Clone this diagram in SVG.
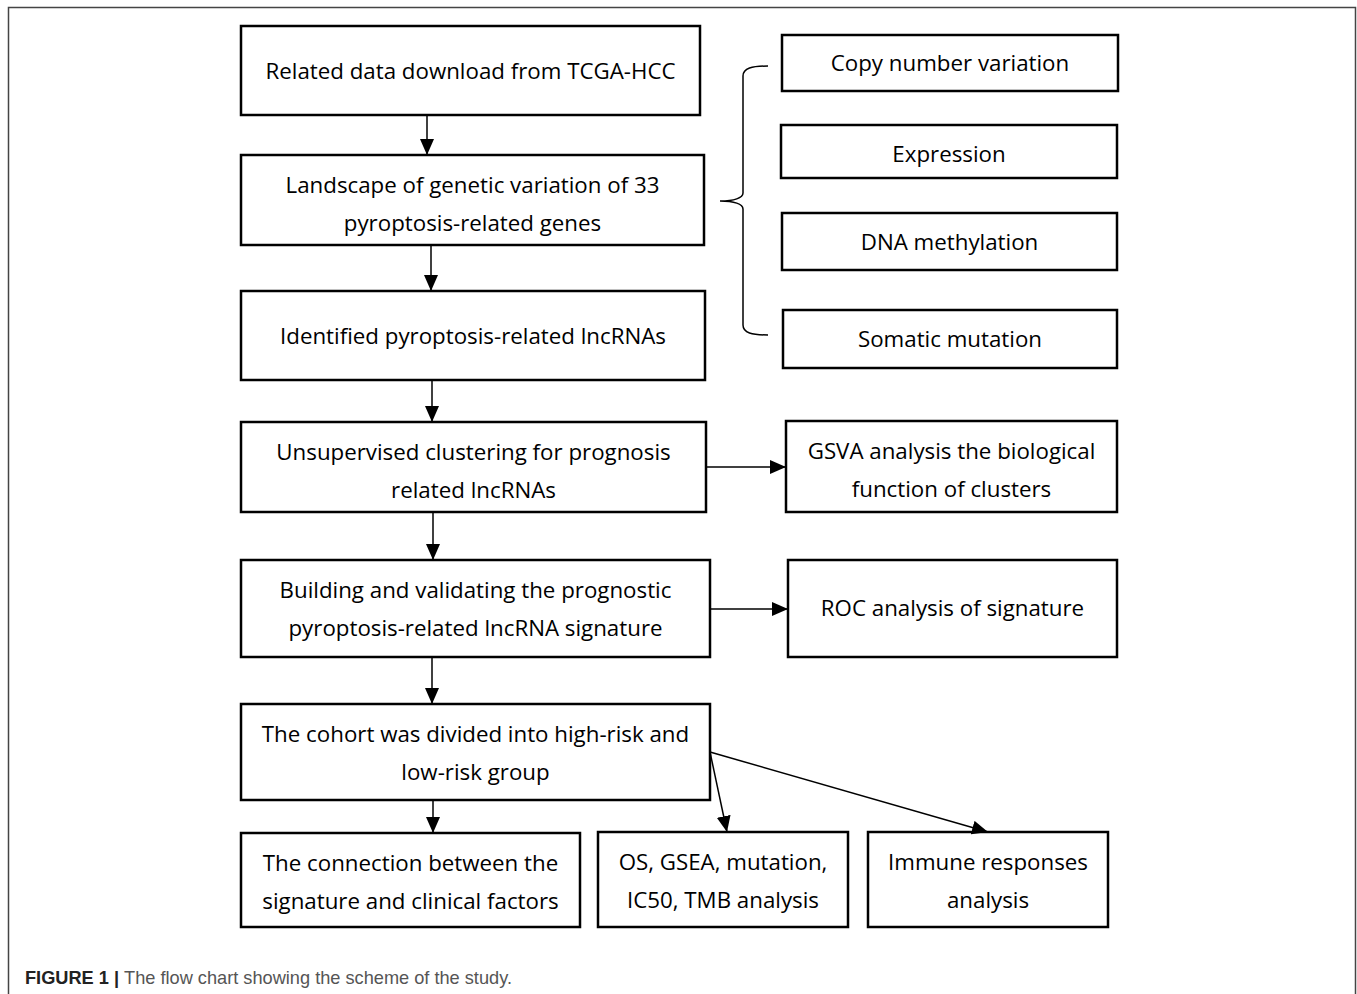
<svg xmlns="http://www.w3.org/2000/svg" width="1357" height="994" viewBox="0 0 1357 994">
<defs>
<marker id="ah" markerWidth="16" markerHeight="14" refX="16" refY="7" orient="auto" markerUnits="userSpaceOnUse" viewBox="0 0 16 14">
<path d="M0,0 L16,7 L0,14 z" fill="#000"/>
</marker>
<style>
.box{fill:#fff;stroke:#000;stroke-width:2.5}
.t{font-family:"Open Sans","Noto Sans",sans-serif;font-size:22.3px;fill:#000;text-anchor:middle}
.c{stroke:#000;stroke-width:1.5;fill:none}
</style>
</defs>
<rect width="1357" height="994" fill="#fff"/>
<path d="M8.5,1000 V7.5 H1355.5 V1000" fill="none" stroke="#444" stroke-width="1.5"/>
<g id="n1"><rect class="box" x="241" y="26" width="459" height="89"/><text class="t" x="470.5" y="79">Related data download from TCGA-HCC</text></g>
<g id="n2"><rect class="box" x="241" y="155" width="463" height="90"/><text class="t" x="472.5" y="193">Landscape of genetic variation of 33</text><text class="t" x="472.5" y="231">pyroptosis-related genes</text></g>
<g id="n3"><rect class="box" x="241" y="291" width="464" height="89"/><text class="t" x="473" y="344">Identified pyroptosis-related lncRNAs</text></g>
<g id="n4"><rect class="box" x="241" y="422" width="465" height="90"/><text class="t" x="473.5" y="460">Unsupervised clustering for prognosis</text><text class="t" x="473.5" y="498">related lncRNAs</text></g>
<g id="n5"><rect class="box" x="241" y="560" width="469" height="97"/><text class="t" x="475.5" y="598">Building and validating the prognostic</text><text class="t" x="475.5" y="636">pyroptosis-related lncRNA signature</text></g>
<g id="n6"><rect class="box" x="241" y="704" width="469" height="96"/><text class="t" x="475.5" y="742">The cohort was divided into high-risk and</text><text class="t" x="475.5" y="780">low-risk group</text></g>
<g id="n7"><rect class="box" x="241" y="833" width="339" height="94"/><text class="t" x="410.5" y="871">The connection between the</text><text class="t" x="410.5" y="909">signature and clinical factors</text></g>
<g id="n8"><rect class="box" x="598" y="832" width="250" height="95"/><text class="t" x="723" y="870">OS, GSEA, mutation,</text><text class="t" x="723" y="908">IC50, TMB analysis</text></g>
<g id="n9"><rect class="box" x="868" y="832" width="240" height="95"/><text class="t" x="988" y="870">Immune responses</text><text class="t" x="988" y="908">analysis</text></g>
<g id="n10"><rect class="box" x="782" y="35" width="336" height="56"/><text class="t" x="950" y="71">Copy number variation</text></g>
<g id="n11"><rect class="box" x="781" y="125" width="336" height="53"/><text class="t" x="949" y="162">Expression</text></g>
<g id="n12"><rect class="box" x="782" y="213" width="335" height="57"/><text class="t" x="949.5" y="250">DNA methylation</text></g>
<g id="n13"><rect class="box" x="783" y="310" width="334" height="58"/><text class="t" x="950" y="347">Somatic mutation</text></g>
<g id="n14"><rect class="box" x="786" y="421" width="331" height="91"/><text class="t" x="951.5" y="459">GSVA analysis the biological</text><text class="t" x="951.5" y="497">function of clusters</text></g>
<g id="n15"><rect class="box" x="788" y="560" width="329" height="97"/><text class="t" x="952.5" y="616">ROC analysis of signature</text></g>
<g id="connectors">
<line class="c" x1="427" y1="116" x2="427" y2="155" marker-end="url(#ah)"/>
<line class="c" x1="431" y1="246" x2="431" y2="291" marker-end="url(#ah)"/>
<line class="c" x1="432" y1="381" x2="432" y2="422" marker-end="url(#ah)"/>
<line class="c" x1="433" y1="513" x2="433" y2="560" marker-end="url(#ah)"/>
<line class="c" x1="432" y1="658" x2="432" y2="704" marker-end="url(#ah)"/>
<line class="c" x1="433" y1="801" x2="433" y2="833" marker-end="url(#ah)"/>
<line class="c" x1="707" y1="467" x2="786" y2="467" marker-end="url(#ah)"/>
<line class="c" x1="711" y1="609" x2="788" y2="609" marker-end="url(#ah)"/>
<line class="c" x1="710" y1="752" x2="727" y2="832" marker-end="url(#ah)"/>
<line class="c" x1="710" y1="752" x2="988" y2="832" marker-end="url(#ah)"/>
<path class="c" d="M768,66 C752,66 743,68 743,76 L743,193 C743,198 734,201 720,201 C734,201 743,204 743,209 L743,325 C743,333 752,335 768,335" stroke="#333" stroke-width="1.5"/>
</g>
<text x="25" y="984" font-family="Liberation Sans,Arial,sans-serif" font-size="18.2" fill="#555"><tspan font-weight="bold" fill="#222">FIGURE 1 | </tspan>The flow chart showing the scheme of the study.</text>
</svg>
